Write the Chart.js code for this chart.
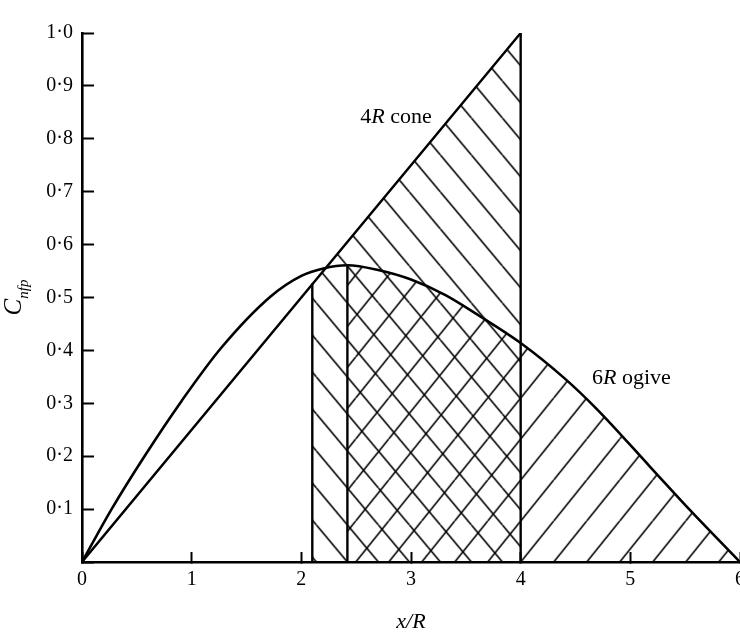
<!DOCTYPE html>
<html>
<head>
<meta charset="utf-8">
<script src="https://cdn.jsdelivr.net/npm/chart.js@4/dist/chart.umd.min.js"></script>
<style>
html,body{margin:0;padding:0;background:#fff;}
#wrap{width:740px;height:635px;position:relative;}
</style>
</head>
<body>
<div id="wrap"><canvas id="c" width="740" height="635"></canvas></div>
<script>
// ---- data ----
const ogiveX = [0, 0.27, 0.57, 0.91, 1.27, 1.72, 2.0, 2.2, 2.42, 2.7, 3.0, 3.31, 3.61, 4.0, 4.39, 4.69, 5.18, 5.54, 6.0];
const ogiveY = [0, 0.10, 0.20, 0.305, 0.405, 0.502, 0.541, 0.555, 0.561, 0.552, 0.534, 0.505, 0.467, 0.414, 0.349, 0.290, 0.180, 0.099, 0];
const coneX = [0, 4];
const coneY = [0, 1.0];
const coneHatchX = [2.1, 4];
const coneHatchY = [0.525, 1.0];
const ogiveHatchStart = 2.42;
const stationX = [2.1, 2.42, 4];
const stationTop = [0.525, 0.561, 1.0];
const xTicks = [0, 1, 2, 3, 4, 5, 6];
const yTicks = [0, 0.1, 0.2, 0.3, 0.4, 0.5, 0.6, 0.7, 0.8, 0.9, 1.0];
const annoParts = [
  [['4', 'normal'], ['R', 'italic'], [' cone', 'normal']],
  [['6', 'normal'], ['R', 'italic'], [' ogive', 'normal']]
];
const annoX = [3.19, 4.65];
const annoY = [0.830, 0.337];
const annoAlign = ['right', 'left'];
const xTitle = 'x/R';
const yTitleMain = 'C';
const yTitleSub = 'nfp';

// ---- styling ----
const SERIF = "'Liberation Serif', 'DejaVu Serif', serif";
const canvas = document.getElementById('c');
const mainCtx = canvas.getContext('2d');

function makeHatch(w, h, dir) {
  const t = document.createElement('canvas');
  t.width = w; t.height = h;
  const g = t.getContext('2d');
  g.strokeStyle = '#000';
  g.lineWidth = 1.6;
  g.beginPath();
  for (const k of [-1, 0, 1]) {
    if (dir === '/') { g.moveTo(k * w, h); g.lineTo(k * w + w, 0); }
    else { g.moveTo(k * w, 0); g.lineTo(k * w + w, h); }
  }
  g.stroke();
  return mainCtx.createPattern(t, 'repeat');
}
const FWD_W = 33, FWD_H = 41, BACK_W = 31, BACK_H = 37;
const patFwd = makeHatch(FWD_W, FWD_H, '/');
const patBack = makeHatch(BACK_W, BACK_H, '\\');

const pts = (xs, ys) => xs.map((x, i) => ({x, y: ys[i]}));
const ogivePts = pts(ogiveX, ogiveY);
const ogiveHatchPts = ogivePts.filter(p => p.x >= ogiveHatchStart);

const datasets = [
  {data: pts(coneHatchX, coneHatchY), borderWidth: 0, fill: 'origin', backgroundColor: patBack, tension: 0},
  {data: ogiveHatchPts, borderWidth: 0, fill: 'origin', backgroundColor: patFwd, cubicInterpolationMode: 'monotone'},
  {data: ogivePts, borderWidth: 2.6, borderColor: '#000', fill: false, cubicInterpolationMode: 'monotone'},
  {data: pts(coneX, coneY), borderWidth: 2.4, borderColor: '#000', fill: false}
];
stationX.forEach((sx, i) => {
  datasets.push({data: [{x: sx, y: 0}, {x: sx, y: stationTop[i]}], borderWidth: 2.4, borderColor: '#000', fill: false});
});
datasets.forEach(d => { d.pointRadius = 0; d.pointHoverRadius = 0; d.borderCapStyle = 'round'; d.borderJoinStyle = 'round'; });

const hatchAnchor = {
  id: 'hatchAnchor',
  beforeDatasetsDraw(chart) {
    const xs = chart.scales.x, ys = chart.scales.y;
    const y0 = ys.getPixelForValue(0);
    patFwd.setTransform(new DOMMatrix().translate(xs.getPixelForValue(stationX[2]), y0 - FWD_H));
    patBack.setTransform(new DOMMatrix().translate(xs.getPixelForValue(stationX[1]), y0));
  }
};

const textPlugin = {
  id: 'texts',
  afterDraw(chart) {
    const ctx = chart.ctx, xs = chart.scales.x, ys = chart.scales.y, ca = chart.chartArea;
    ctx.save();
    ctx.fillStyle = '#000';
    ctx.textBaseline = 'alphabetic';
    ctx.textAlign = 'left';
    annoParts.forEach((parts, i) => {
      let total = 0;
      const widths = parts.map(([t, st]) => { ctx.font = st + ' 22px ' + SERIF; const w = ctx.measureText(t).width; total += w; return w; });
      let px = xs.getPixelForValue(annoX[i]);
      if (annoAlign[i] === 'right') px -= total;
      const py = ys.getPixelForValue(annoY[i]);
      parts.forEach(([t, st], j) => { ctx.font = st + ' 22px ' + SERIF; ctx.fillText(t, px, py); px += widths[j]; });
    });
    ctx.translate(ca.left - 61, (ca.top + ca.bottom) / 2);
    ctx.rotate(-Math.PI / 2);
    ctx.font = 'italic 25px ' + SERIF;
    const wC = ctx.measureText(yTitleMain).width;
    ctx.font = 'italic 15px ' + SERIF;
    const wS = ctx.measureText(yTitleSub).width;
    const start = -(wC + wS) / 2;
    ctx.font = 'italic 25px ' + SERIF;
    ctx.fillText(yTitleMain, start, 0);
    ctx.font = 'italic 15px ' + SERIF;
    ctx.fillText(yTitleSub, start + wC, 7);
    ctx.restore();
  }
};

const fmt = v => v.toFixed(1).replace('.', '\u00B7');

new Chart(canvas, {
  type: 'line',
  data: {datasets},
  plugins: [hatchAnchor, textPlugin],
  options: {
    responsive: false,
    animation: false,
    events: [],
    layout: {padding: {top: 17, left: 0, right: 0, bottom: 0}},
    plugins: {legend: {display: false}, tooltip: {enabled: false}},
    scales: {
      x: {
        type: 'linear', min: 0, max: 6,
        afterBuildTicks: s => { s.ticks = xTicks.map(v => ({value: v})); },
        afterFit: s => { s.height = 73; s.paddingRight = 0; s.paddingLeft = 0; },
        ticks: {callback: v => String(v), font: {family: SERIF, size: 20}, color: '#000', padding: 16, maxRotation: 0, autoSkip: false},
        grid: {drawOnChartArea: false, drawTicks: true, tickLength: -10, tickWidth: 2, tickColor: '#000'},
        border: {display: true, color: '#000', width: 2.6},
        title: {display: true, text: xTitle, font: {family: SERIF, size: 22, style: 'italic'}, color: '#000', padding: {top: 0, bottom: 0}}
      },
      y: {
        type: 'linear', min: 0, max: 1.0,
        afterBuildTicks: s => { s.ticks = yTicks.map(v => ({value: v})); },
        afterFit: s => { s.width = 82; },
        ticks: {callback: v => (v === 0 ? '' : fmt(v)), font: {family: SERIF, size: 20}, color: '#000', padding: 21, autoSkip: false},
        grid: {drawOnChartArea: false, drawTicks: true, tickLength: -12, tickWidth: 2, tickColor: '#000'},
        border: {display: true, color: '#000', width: 2.6}
      }
    }
  }
});
</script>
</body>
</html>
